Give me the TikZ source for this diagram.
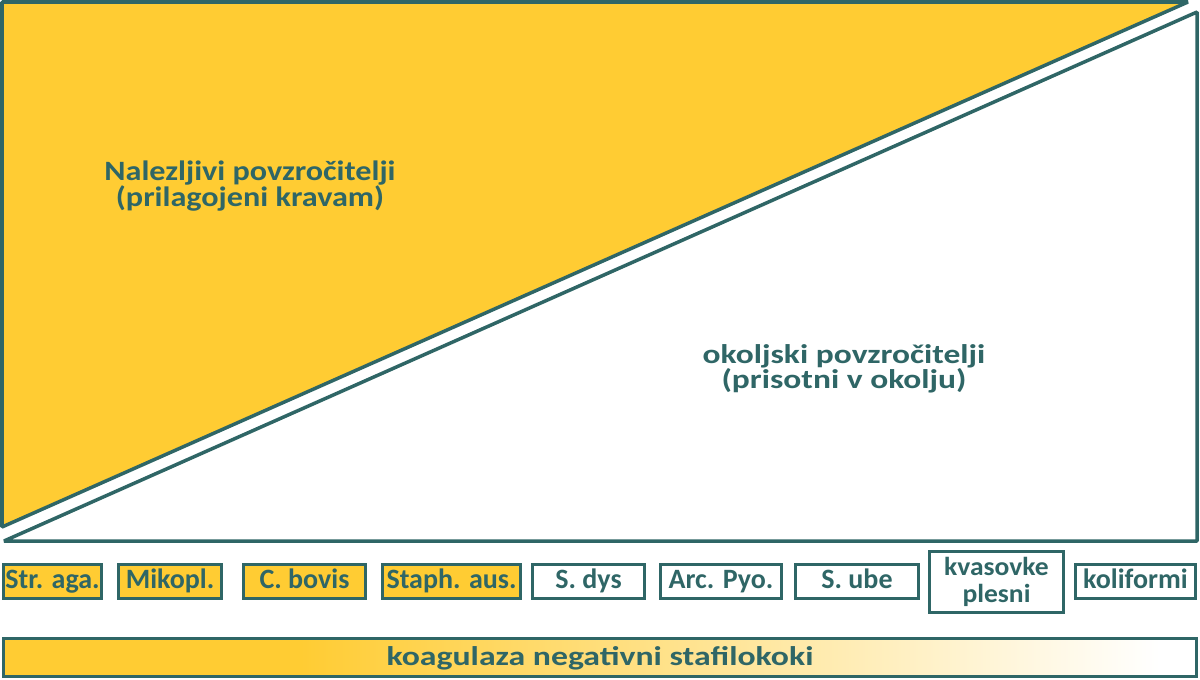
\documentclass[tikz,border=0pt]{standalone}
\usepackage{fontspec}
\setmainfont{Carlito}
\definecolor{tealdk}{RGB}{47,102,102}
\definecolor{cowyellow}{RGB}{255,204,51}
\usepackage{tikz}
\usetikzlibrary{positioning}

\begin{document}
\begin{tikzpicture}[x=1pt, y=-1pt,
  bug/.style={draw=tealdk, line width=3pt, minimum height=34pt, inner sep=0pt,
    text height=20pt, text depth=6pt,
    font=\fontsize{28}{22}\selectfont\bfseries, text=tealdk},
  cowbug/.style={bug, fill=cowyellow},
  envbug/.style={bug, fill=white},
  bigtext/.style={align=center, text=tealdk}]
  \useasboundingbox (0,0) rectangle (1200,680);

  % Contagious triangle
  \draw[tealdk, fill=cowyellow, line width=3.5pt, line join=bevel]
    (2,2) -- (1188,2) -- (2,527) -- cycle;
  \node[bigtext, font=\fontsize{28}{22}\selectfont\bfseries\addfontfeature{FakeStretch=1.15}]
    (contag) at (250,186) {Nalezljivi povzročitelji\\(prilagojeni kravam)};

  % Environmental triangle
  \draw[tealdk, fill=white, line width=3.5pt, line join=bevel]
    (4,541) -- (1197,12) -- (1197,541) -- cycle;
  \node[bigtext, font=\fontsize{27}{22}\selectfont\bfseries\addfontfeature{FakeStretch=1.24}]
    (environ) at (844,369) {okoljski povzročitelji\\(prisotni v okolju)};

  % Pathogens
  \node[cowbug, minimum width=98pt] (straga) at (52.5,581.5) {Str. aga.};
  \node[cowbug, minimum width=103pt] (mikopl) at (170,581.5) {Mikopl.};
  \node[cowbug, minimum width=122pt] (cbovis) at (304.5,581.5) {C. bovis};
  \node[cowbug, minimum width=138pt] (staph) at (451.5,581.5) {Staph. aus.};
  \node[envbug, minimum width=112pt] (sdys) at (588.5,581.5) {S. dys};
  \node[envbug, minimum width=121pt] (arcpyo) at (721,581.5) {Arc. Pyo.};
  \node[envbug, minimum width=123pt] (sube) at (857,581.5) {S. ube};
  \node[envbug, minimum width=134pt, minimum height=61pt, align=center,
    text height=, text depth=, font=\fontsize{26}{27}\selectfont\bfseries\addfontfeature{FakeStretch=1.06}]
    (kvas) at (996.5,582) {kvasovke\\plesni};
  \node[envbug, minimum width=120pt] (kolif) at (1135.5,581.5) {koliformi};

  % Bottom bar
  \fill[cowyellow] (3.5,638.5) rectangle (300,676.5);
  \shade[left color=cowyellow, right color=white] (300,638.5) rectangle (1160,676.5);
  \draw[tealdk, line width=3pt] (3.5,638.5) rectangle (1196.5,676.5);
  \node[text=tealdk, font=\fontsize{27}{27}\selectfont\bfseries\addfontfeature{FakeStretch=1.25}]
    (cns) at (600,658) {koagulaza negativni stafilokoki};
\end{tikzpicture}
\end{document}
